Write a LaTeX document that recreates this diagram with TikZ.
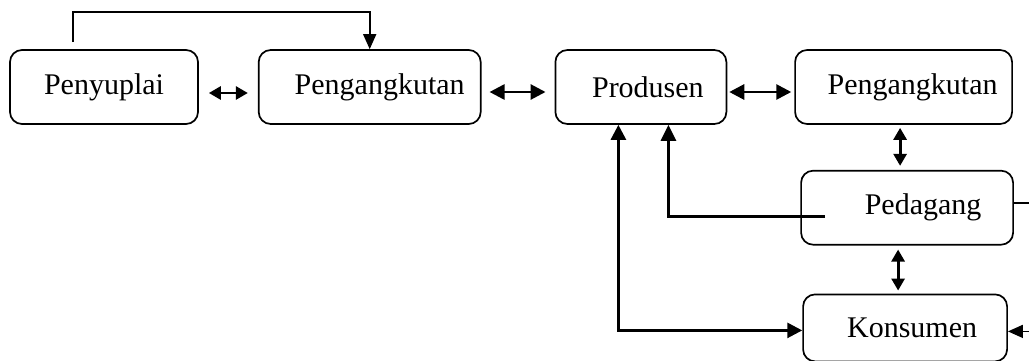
\documentclass[tikz,border=0pt]{standalone}
\usepackage{fontspec}
\setmainfont{Liberation Serif}
\usetikzlibrary{arrows.meta,positioning}

\begin{document}
\begin{tikzpicture}[
        x=1pt, y=-1pt,
        node distance=45pt and 60pt,
        every node/.style={align=center, font=\fontsize{30}{36}\selectfont},
        entity/.style={draw, line width=1.7pt, rounded corners=12pt, minimum width=#1, minimum height=74pt, inner sep=0pt},
        pad/.style={execute at begin node={\hspace*{#1}}},
        flow/.style={line width=2.8pt, -{Triangle[length=16pt,width=15pt]}},
        twoway/.style={line width=2.8pt, {Triangle[length=12pt,width=13pt]}-{Triangle[length=12pt,width=13pt]}},
        longway/.style={line width=2.8pt, {Triangle[length=15pt,width=15pt]}-{Triangle[length=15pt,width=15pt]}},
        thinflow/.style={line width=1.6pt, -{Triangle[length=15pt,width=13pt]}}
    ]
  \useasboundingbox (0,0) rectangle (1029,361);

  % Nodes
  \node (penyuplai) [entity=188pt] at (104,87) {Penyuplai};
  \node (angkut1) [entity=222pt, pad=20pt, right=59pt of penyuplai] {Pengangkutan};
  \node (produsen) [entity=171pt, pad=14pt, right=73pt of angkut1] {Produsen};
  \node (angkut2) [entity=217pt, pad=18pt, right=67pt of produsen] {Pengangkutan};
  \node (pedagang) [entity=212pt, pad=32pt, below=45pt of angkut2, xshift=3.5pt] {Pedagang};
  \node (konsumen) [entity=204pt, minimum height=67pt, pad=14pt, below=48pt of pedagang, xshift=-2pt] {Konsumen};
  \coordinate (edge) at (1029,0);

  % top row
  \draw[thinflow] ([xshift=-31pt,yshift=7pt]penyuplai.north) -- ++(0pt,30pt) -| (angkut1.north);
  \draw[twoway, shorten <=10pt, shorten >=10pt] ([yshift=-6pt]penyuplai.east) -- ([yshift=-6pt]angkut1.west);
  \draw[longway, shorten <=8pt, shorten >=9pt] ([yshift=-5pt]angkut1.east) -- ([yshift=-5pt]angkut1.east -| produsen.west);
  \draw[longway, shorten <=2pt, shorten >=3pt] ([yshift=-5pt]produsen.east) -- ([yshift=-5pt]produsen.east -| angkut2.west);

  % right column
  \draw[twoway, shorten <=3pt, shorten >=4pt] ([xshift=-3.5pt]angkut2.south) -- ([xshift=-3.5pt]angkut2.south |- pedagang.north);
  \draw[twoway, shorten <=4pt, shorten >=3pt] ([xshift=-9pt]pedagang.south) -- ([xshift=-9pt]pedagang.south |- konsumen.north);

  % back to produsen
  \draw[flow] ([xshift=-82pt,yshift=-9pt]pedagang.center) -| ([xshift=27.5pt]produsen.south);
  \draw[longway] ([xshift=-22.5pt]produsen.south) |- ([yshift=-2.5pt]konsumen.west);

  % cut off at the right
  \draw[line width=1.6pt] ([yshift=5pt]pedagang.east) -- ([yshift=5pt]pedagang.east -| edge);
  \draw[thinflow] ([yshift=-3.5pt]konsumen.east -| edge) -- ([yshift=-3.5pt]konsumen.east);
\end{tikzpicture}
\end{document}
